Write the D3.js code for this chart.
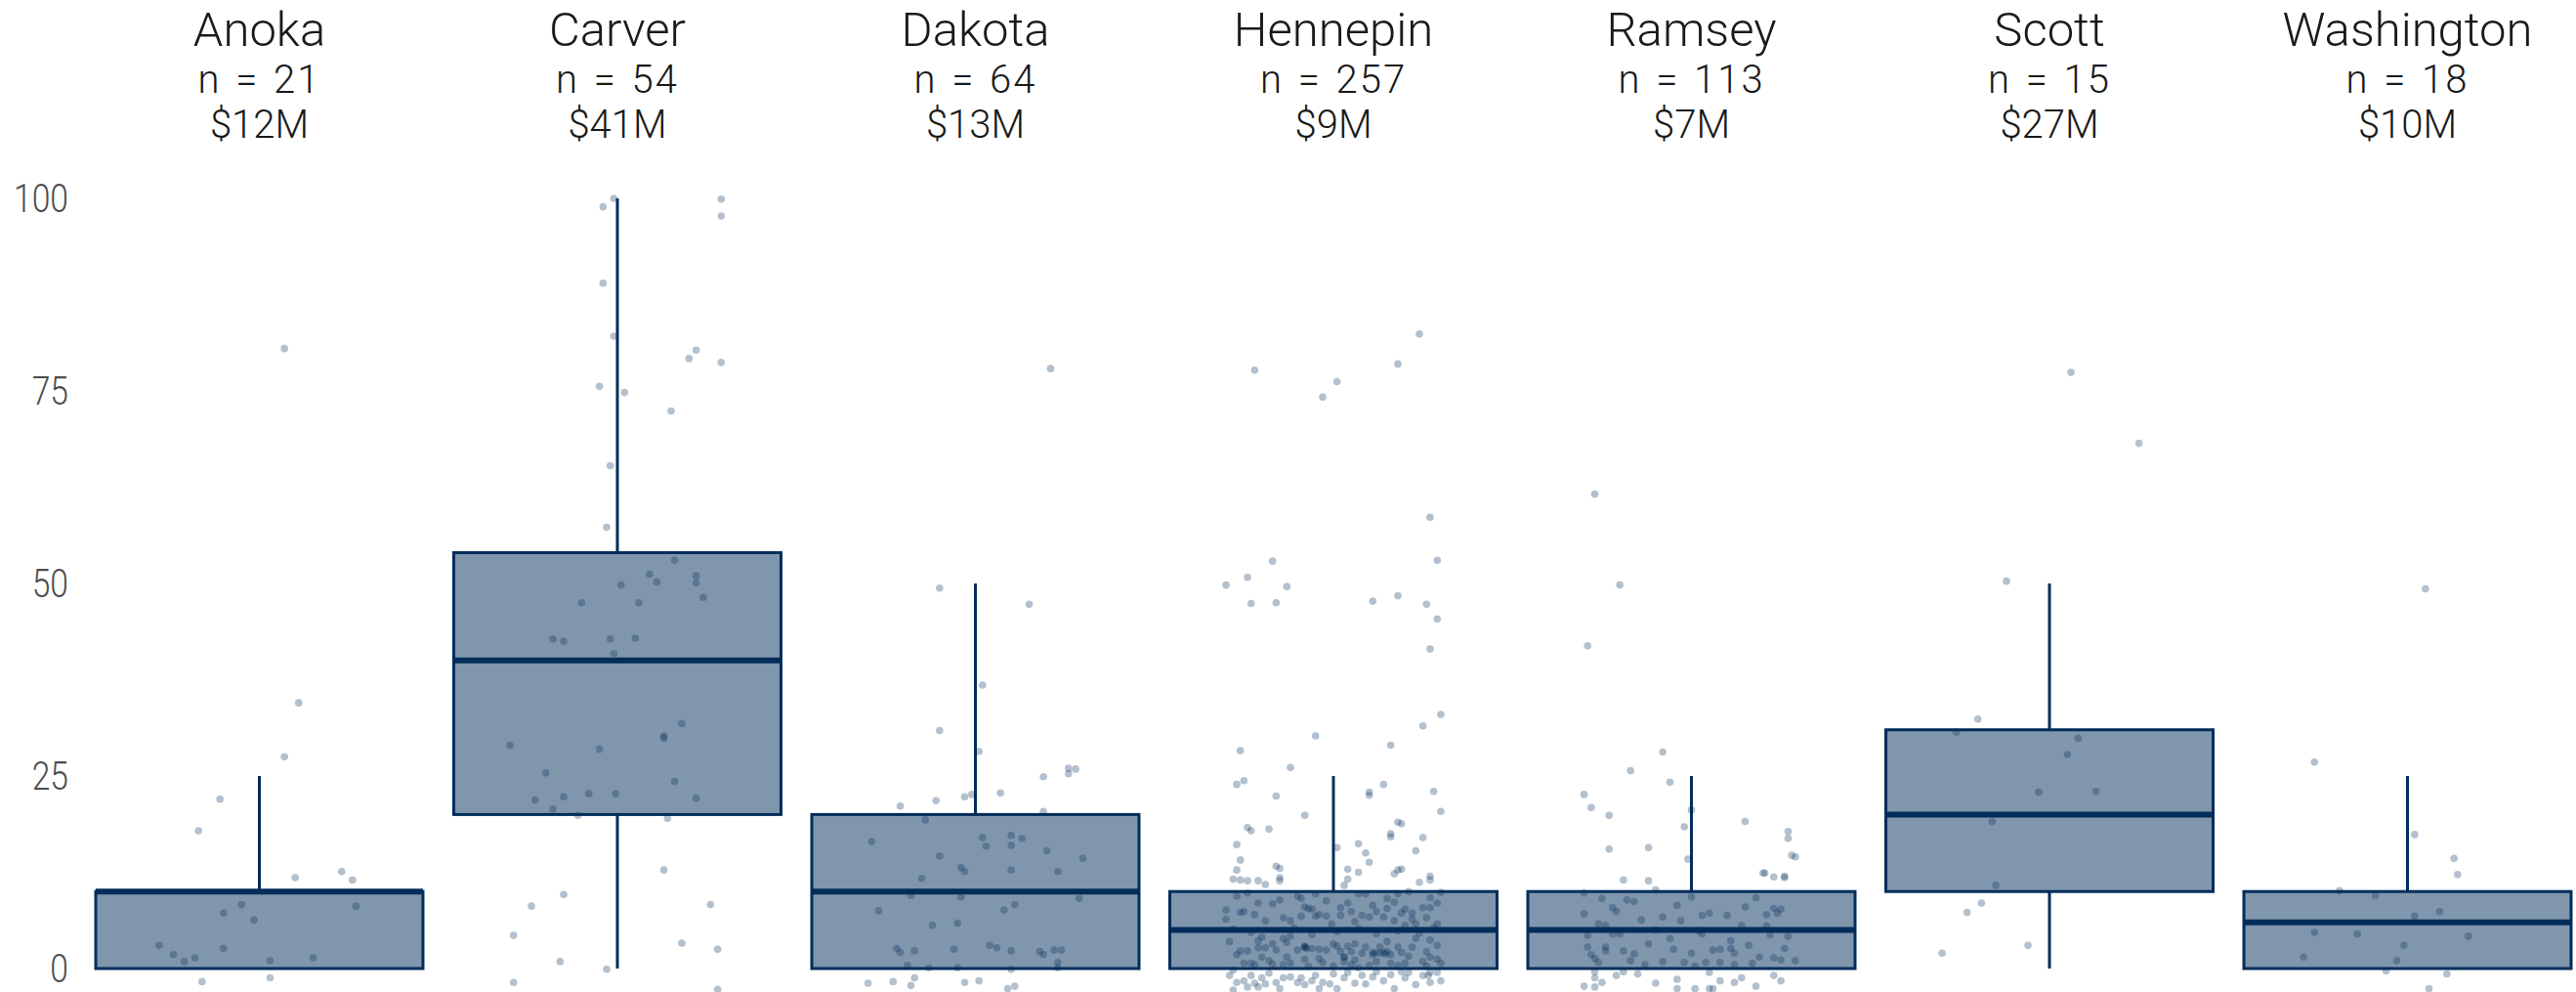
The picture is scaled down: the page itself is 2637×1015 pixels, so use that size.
<!DOCTYPE html>
<html>
<head>
<meta charset="utf-8">
<script src="https://cdn.jsdelivr.net/npm/d3@7"></script>
<style>
  html, body { margin: 0; padding: 0; background: #ffffff; }
  svg { display: block; }
  .title { font-family: "Roboto", "Liberation Sans", sans-serif; font-weight: 300; fill: #1a1a1a; }
  .ytick text { font-family: "Roboto", "Liberation Sans", sans-serif; font-weight: 300; fill: #4d4d4d; }
</style>
</head>
<body>
<svg id="chart" width="2637" height="1015"></svg>
<script>
// ---------------- DATA ----------------
const counties = ["Anoka", "Carver", "Dakota", "Hennepin", "Ramsey", "Scott", "Washington"];
const nCounts  = [21, 54, 64, 257, 113, 15, 18];
const amounts  = ["$12M", "$41M", "$13M", "$9M", "$7M", "$27M", "$10M"];
const yTicks   = [0, 25, 50, 75, 100];

// box stats: [lower whisker, Q1, median, Q3, upper whisker]
const boxStats = [
  [0, 0, 10, 10, 25],
  [0, 20, 40, 54, 100],
  [0, 0, 10, 20, 50],
  [0, 0, 5, 10, 25],
  [0, 0, 5, 10, 25],
  [0, 10, 20, 31, 50],
  [0, 0, 6, 10, 25]
];

// jittered points: [horizontal jitter (category units), value]
const anokaPts = [
  [0.07,80.5],[0.11,34.5],[0.07,27.5],[-0.11,22.0],[-0.17,17.9],[0.10,11.8],[0.23,12.6],
  [0.26,11.5],[0.27,8.1],[-0.05,8.3],[-0.10,7.2],[-0.015,6.3],[-0.10,2.6],[-0.28,3.0],
  [-0.24,1.8],[-0.21,0.9],[-0.18,1.4],[0.03,1.0],[0.15,1.4],[-0.16,-1.7],[0.03,-1.2]
];
const carverPts = [
  [-0.01,100],[-0.04,98.9],[0.29,99.9],[0.29,97.7],[-0.04,89.0],[-0.01,82.1],[0.22,80.3],
  [0.20,79.2],[0.29,78.7],[-0.05,75.6],[0.02,74.8],[0.15,72.4],[-0.02,65.3],[-0.03,57.3],
  [0.16,53.0],[0.09,51.2],[0.22,51.0],[0.01,49.8],[0.11,50.2],[0.22,50.1],[0.24,48.2],
  [-0.10,47.5],[0.06,47.5],[-0.18,42.8],[-0.15,42.5],[-0.02,42.8],[0.05,42.9],[-0.01,40.9],
  [-0.30,29.0],[-0.05,28.5],[0.13,30.2],[0.13,29.9],[0.18,31.8],[-0.20,25.4],[0.16,24.3],
  [-0.23,21.9],[-0.15,22.3],[-0.08,22.7],[-0.005,22.7],[0.22,22.1],[-0.18,20.7],
  [-0.11,19.9],[0.14,19.5],[0.13,12.8],[-0.15,9.6],[-0.24,8.1],[0.26,8.3],[-0.29,4.3],
  [0.18,3.3],[0.28,2.5],[-0.16,0.9],[-0.03,-0.1],[-0.29,-1.8],[0.28,-2.7]
];
const dakotaPts = [
  [0.21,77.9],[-0.10,49.4],[0.15,47.3],[0.02,36.8],[-0.10,30.9],[0.01,28.2],[0.19,24.9],
  [0.26,26.0],[0.28,25.9],[0.26,25.3],[-0.21,21.1],[-0.11,21.8],[-0.03,22.3],[-0.01,22.6],
  [0.07,22.8],[0.19,20.4],
  [-0.14,19.3],[-0.29,16.5],[0.02,17.0],[0.03,15.9],[0.10,17.3],[0.10,16.0],[0.13,16.9],
  [-0.10,14.6],[0.20,15.3],[0.30,14.3],[-0.04,13.1],[-0.03,12.6],[0.10,12.8],[0.23,12.6],
  [-0.15,11.7],[-0.18,9.5],[-0.04,9.3],[0.29,9.1],[-0.27,7.5],[0.08,7.6],[0.11,8.3],
  [-0.12,5.6],[-0.05,5.9],[-0.22,2.6],[-0.21,2.1],[-0.17,2.3],[-0.06,2.5],[0.04,3.0],
  [0.06,2.7],[0.10,2.3],[0.18,2.2],[0.19,1.8],[0.22,2.4],[0.24,2.4],[-0.19,0.4],
  [-0.13,0.1],[-0.05,0.1],[0.10,-0.1],[0.23,0.8],[0.23,0.1],
  [-0.30,-1.9],[-0.17,-1.2],[-0.18,-2.2],[-0.03,-1.8],[0.01,-1.6],[0.09,-2.6],[0.11,-2.3],
  [-0.23,-1.7]
];
const hennepinPts = [
  // above the box
  [0.24,82.4],[-0.22,77.7],[0.18,78.5],[0.01,76.2],[-0.03,74.2],[0.27,58.6],[0.29,53.0],
  [-0.17,52.9],[-0.24,50.8],[-0.30,49.8],[-0.13,49.6],[-0.23,47.4],[-0.16,47.5],[0.11,47.7],
  [0.18,48.4],[0.26,47.3],[0.29,45.4],[0.27,41.5],[0.30,33.0],[0.25,31.5],[-0.05,30.2],
  [0.16,29.0],[-0.26,28.3],[-0.12,26.1],[-0.25,24.4],[-0.27,23.9],[0.14,23.9],[0.10,22.5],
  [0.10,22.9],[0.28,23.0],[-0.16,22.4],[0.30,20.4],[-0.08,19.9],[-0.24,18.3],[-0.23,17.9],
  [-0.18,18.1],[0.18,19.0],[0.19,18.8],[0.16,17.5],[0.16,17.1],[0.25,17.0],[-0.27,16.1],
  [0.07,16.2],[0.01,15.7],[0.23,15.3],[0.09,15.0],[-0.26,14.1],[0.10,13.8],[-0.16,13.3],
  [-0.15,13.0],[0.04,12.9],[0.07,12.5],[0.18,12.8],[0.19,12.9],[0.17,12.3],[-0.27,12.8],
  [0.27,12.0],[0.27,11.5],[-0.26,11.5],[-0.24,11.4],[-0.21,11.4],[-0.19,10.9],[-0.15,11.4],
  [-0.15,11.8],[0.04,11.6],[0.24,11.2],[-0.28,11.6],[0.03,10.8],
  // inside the box
  [-0.27,9.4],[-0.21,8.5],[-0.15,8.9],[-0.10,9.4],[-0.05,9.7],[0.04,8.5],[0.07,9.7],
  [0.09,9.7],[0.15,9.1],[0.18,9.7],[0.21,10.0],[0.25,7.9],[0.27,7.9],[0.29,8.5],[0.30,9.9],
  [-0.30,7.6],[-0.26,7.3],[-0.25,7.4],[-0.22,7.0],[-0.19,6.2],[-0.09,6.8],[-0.08,8.0],
  [-0.07,7.8],[-0.06,7.7],[-0.05,6.8],[-0.04,7.0],[-0.02,6.8],[-0.005,5.8],[0.02,6.9],
  [0.05,7.4],[0.08,6.9],[0.10,6.7],[0.12,7.4],[0.14,6.7],[0.15,7.8],[0.17,6.2],[0.19,7.2],
  [0.20,7.7],[0.22,7.2],[0.22,6.4],[0.23,5.8],[0.26,6.6],[0.29,5.8],[-0.30,6.4],[-0.12,6.2],
  [0.20,5.6],
  [-0.12,4.2],[-0.14,3.9],[-0.17,3.2],[-0.20,4.1],[-0.21,3.6],[-0.24,2.3],[-0.27,1.8],
  [-0.26,2.3],[-0.21,2.7],[-0.19,2.7],[-0.20,1.5],[-0.16,2.4],[-0.13,1.5],[-0.10,2.4],
  [-0.08,2.8],[-0.08,2.9],[-0.06,2.6],[-0.04,2.5],[-0.02,2.4],[0.00,3.2],[0.01,2.9],
  [0.02,2.2],[0.03,1.5],[0.04,2.9],[0.05,2.2],[0.06,3.2],[0.08,2.0],[0.09,2.8],[0.11,1.8],
  [0.11,2.1],[0.13,2.8],[0.13,2.0],[0.15,2.2],[0.16,1.8],[0.18,2.8],[0.19,2.1],[0.22,2.8],
  [0.27,3.7],[0.29,3.0],[0.27,1.5],[0.29,1.2],[0.30,0.7],
  [-0.28,-0.2],[-0.25,0.7],[-0.23,0.7],[-0.22,0.5],[-0.17,0.6],[-0.14,0.5],[-0.12,0.7],
  [-0.08,1.2],[-0.07,0.3],[-0.03,0.8],[0.00,0.3],[0.03,0.9],[0.05,0.5],[0.07,0.1],
  [0.12,0.9],[0.16,0.7],[0.18,0.4],[0.20,0.7],[0.25,0.9],[0.26,0.3],
  [-0.08,2.8],[-0.075,2.6],[0.03,1.5],[0.117,2.0],[0.14,2.1],[0.145,1.9],
  [-0.28,5.1],[-0.23,4.7],[-0.11,5.3],[-0.06,4.4],[0.01,4.8],[0.07,5.2],[0.12,4.5],
  [0.18,4.9],[0.24,4.6],[0.28,5.3],[-0.18,1.0],[-0.04,1.3],[0.06,1.1],[0.10,0.4],
  [0.21,1.6],[0.26,2.2],[-0.29,3.5],[-0.13,3.4],[0.15,3.5],[0.23,3.9],
  [-0.02,8.8],[0.11,8.2],[-0.17,8.4],[0.27,9.2],[-0.24,9.8],[0.02,7.9],[0.17,8.6],
  [-0.09,9.1],[0.06,6.1],[-0.14,6.6],
  // below zero
  [-0.29,-0.9],[-0.28,-2.8],[-0.27,-1.8],[-0.25,-1.6],[-0.24,-2.4],[-0.23,-0.9],[-0.22,-1.9],
  [-0.21,-2.4],[-0.20,-1.2],[-0.19,-2.0],[-0.18,-0.6],[-0.16,-1.8],[-0.15,-2.6],[-0.14,-1.2],
  [-0.12,-1.1],[-0.10,-1.8],[-0.09,-1.2],[-0.08,-2.1],[-0.06,-1.6],[-0.05,-0.9],[-0.04,-2.6],
  [-0.03,-1.8],[-0.01,-2.0],[0.00,-0.7],[0.01,-2.6],[0.03,-1.2],[0.04,-0.5],[0.06,-1.9],
  [0.08,-0.9],[0.09,-2.0],[0.11,-1.1],[0.12,-0.4],[0.14,-1.6],[0.16,-0.8],[0.17,-2.6],
  [0.19,-0.4],[0.20,-1.2],[0.21,-0.5],[0.23,-2.1],[0.25,-0.9],[0.27,-0.5],[0.27,-1.8],
  [0.29,-0.5],[0.30,-1.6],[0.265,-0.9]
];
const ramseyPts = [
  [-0.27,61.6],[-0.20,49.8],[-0.29,41.9],[-0.08,28.1],[-0.17,25.7],[-0.06,24.2],[-0.30,22.6],
  [-0.28,20.9],[-0.23,19.9],[0.00,20.6],[-0.02,18.4],[-0.23,15.5],[-0.12,15.7],[-0.01,14.2],
  [-0.19,11.5],[-0.12,11.4],[-0.10,10.2],[-0.30,9.8],
  [-0.25,9.1],[-0.18,8.9],[-0.16,8.7],[0.00,9.3],[-0.30,7.1],[-0.22,7.9],[-0.21,7.4],
  [-0.24,5.6],[-0.26,5.8],[-0.08,6.7],[-0.03,6.2],[0.03,6.9],[0.05,7.2],[0.10,6.9],
  [0.03,4.5],[-0.29,4.3],[-0.22,4.5],[-0.20,4.5],[-0.12,3.2],[-0.06,3.9],[-0.29,2.8],
  [-0.24,2.8],[-0.24,2.3],[-0.19,2.3],[-0.05,2.5],[0.00,2.0],[0.06,2.4],[0.11,3.6],
  [-0.28,1.8],[-0.27,1.3],[-0.26,0.8],[-0.17,1.0],[-0.13,0.5],[-0.08,0.9],[-0.02,0.8],
  [0.01,0.3],[0.04,0.8],[0.08,0.8],[0.12,0.5],
  [-0.27,-0.4],[-0.27,-1.2],[-0.25,-1.8],[-0.19,-0.4],[-0.15,-0.7],[-0.30,-2.3],[-0.27,-2.4],
  [-0.04,-1.4],[-0.04,-2.6],[0.01,-2.6],[0.05,-2.6],[0.06,-2.6],[0.08,-1.6],
  [0.15,19.1],[0.27,17.8],[0.27,16.9],[0.28,14.7],[0.29,14.5],[0.20,12.4],[0.205,12.4],
  [0.23,11.9],[0.26,12.0],[0.26,11.8],[0.15,8.0],[0.23,7.8],[0.25,7.7],[0.24,7.2],
  [0.21,7.0],[0.21,5.5],[0.22,4.4],[0.27,4.2],[0.16,3.0],[0.26,2.6],[0.29,1.0],[0.17,0.7],
  [0.23,1.4],[0.25,1.1],[0.23,-0.9],[0.25,-1.6],[0.18,-2.3],
  [0.11,2.6],[0.12,2.0],[0.08,2.5],[0.12,-1.8],[0.05,-0.5],
  [-0.14,6.3],[-0.10,5.0],[0.14,5.6],[0.18,9.2],[-0.04,8.2],[-0.16,1.9],[0.02,4.9],
  [0.19,1.5],[-0.21,-0.9],[-0.10,-1.9],[0.14,-1.2]
];
const scottPts = [
  [0.06,77.4],[0.25,68.2],[-0.12,50.3],[-0.20,32.4],[-0.26,30.7],[0.08,29.9],[0.05,27.8],
  [-0.03,22.9],[0.13,23.0],[-0.16,19.1],[-0.15,10.8],[-0.19,8.5],[-0.23,7.3],[-0.06,3.0],
  [-0.30,2.0]
];
const washingtonPts = [
  [0.05,49.3],[-0.26,26.8],[0.02,17.4],[0.13,14.3],[0.14,12.2],[-0.19,10.1],[-0.09,9.5],
  [0.09,7.4],[0.02,6.8],[-0.26,4.7],[-0.14,4.5],[0.17,4.2],[-0.01,3.0],[-0.29,1.5],
  [-0.03,1.0],[-0.06,-0.3],[0.11,-0.7],[0.06,-2.6]
];
const pointSets = [anokaPts, carverPts, dakotaPts, hennepinPts, ramseyPts, scottPts, washingtonPts];

// ---------------- DRAW ----------------
const navy = "#022d5a";
const svg = d3.select("#chart");

const x = d3.scalePoint().domain(counties).range([265.5, 2464.5]);
const step = x.step();
const boxW = step * 0.914;
const y = d3.scaleLinear().domain([0, 100]).range([991, 203]);

// y axis (labels slightly condensed)
const yAxis = d3.axisLeft(y).tickValues(yTicks).tickSize(0).tickPadding(0).tickFormat(d3.format("d"));
const gy = svg.append("g").attr("class", "ytick").attr("transform", "translate(70,0)").call(yAxis);
gy.select(".domain").remove();
gy.selectAll("text")
  .style("font-size", "41px")
  .attr("x", 0)
  .attr("transform", "scale(0.82,1)");

// boxes
const gBoxes = svg.append("g");
counties.forEach((c, i) => {
  const [lo, q1, med, q3, hi] = boxStats[i];
  const cx = x(c);
  const g = gBoxes.append("g");
  if (hi > q3) g.append("line").attr("x1", cx).attr("x2", cx).attr("y1", y(q3)).attr("y2", y(hi))
    .attr("stroke", navy).attr("stroke-width", 3);
  if (lo < q1) g.append("line").attr("x1", cx).attr("x2", cx).attr("y1", y(q1)).attr("y2", y(lo))
    .attr("stroke", navy).attr("stroke-width", 3);
  g.append("rect")
    .attr("x", cx - boxW / 2).attr("width", boxW)
    .attr("y", y(q3)).attr("height", y(q1) - y(q3))
    .attr("fill", navy).attr("fill-opacity", 0.5)
    .attr("stroke", navy).attr("stroke-width", 3);
  g.append("line").attr("x1", cx - boxW / 2).attr("x2", cx + boxW / 2)
    .attr("y1", y(med)).attr("y2", y(med))
    .attr("stroke", navy).attr("stroke-width", 6);
});

// jittered points
const gPts = svg.append("g");
counties.forEach((c, i) => {
  gPts.selectAll(null).data(pointSets[i]).enter().append("circle")
    .attr("cx", d => x(c) + d[0] * step)
    .attr("cy", d => y(d[1]))
    .attr("r", 3.8)
    .attr("fill", navy)
    .attr("fill-opacity", 0.3);
});

// headers
const gHead = svg.append("g");
counties.forEach((c, i) => {
  const cx = x(c);
  gHead.append("text").attr("class", "title").attr("x", cx).attr("y", 47)
    .attr("text-anchor", "middle").style("font-size", "49px").text(c);
  gHead.append("text").attr("class", "title").attr("x", cx).attr("y", 95)
    .attr("text-anchor", "middle").style("font-size", "40px")
    .style("letter-spacing", "2px").style("word-spacing", "3px")
    .text("n = " + nCounts[i]);
  gHead.append("text").attr("class", "title").attr("x", cx).attr("y", 141)
    .attr("text-anchor", "middle").style("font-size", "40px").text(amounts[i]);
});
</script>
</body>
</html>
